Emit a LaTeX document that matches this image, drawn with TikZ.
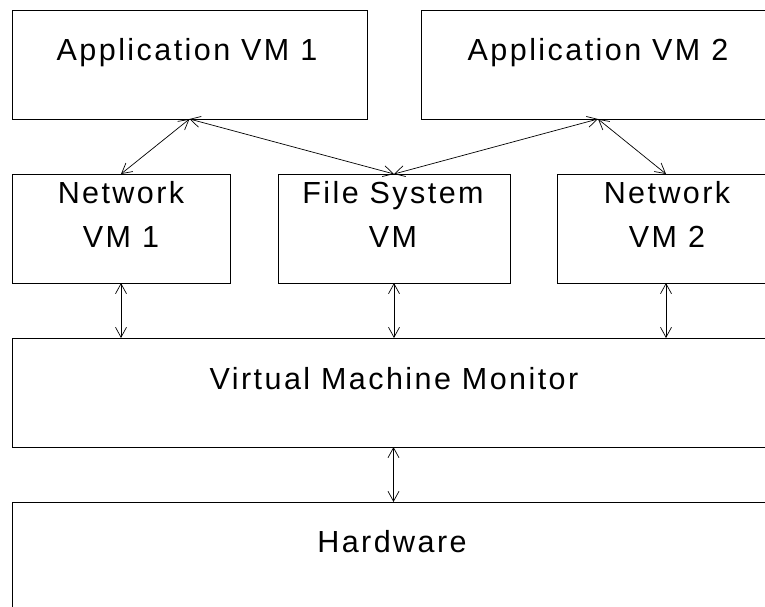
\documentclass[tikz,border=0pt]{standalone}
\usepackage{fontspec}
\setmainfont[LetterSpace=8]{Liberation Sans}
\usetikzlibrary{arrows.meta}
\tikzset{
  box/.style={draw, line width=0.8pt, rectangle, anchor=north west, inner sep=0pt, outer sep=0pt},
  lbl/.style={anchor=base, inner sep=0pt, align=center, font=\fontsize{30.5}{44}\selectfont},
  conn/.style={line width=0.7pt, {Straight Barb[length=10pt,width=11pt]}-{Straight Barb[length=10pt,width=11pt]}}
}
\begin{document}
\begin{tikzpicture}[x=1pt,y=-1pt]
\useasboundingbox (0,0) rectangle (765,607);
\clip (0,0) rectangle (765,607);
\node[box, minimum width=355pt, minimum height=109pt] (app1) at (12,10) {};
\node[box, minimum width=354pt, minimum height=109pt] (app2) at (421,10) {};
\node[box, minimum width=218pt, minimum height=109pt] (net1) at (12,174) {};
\node[box, minimum width=232pt, minimum height=109pt] (fs) at (278,174) {};
\node[box, minimum width=218pt, minimum height=109pt] (net2) at (557,174) {};
\node[box, minimum width=763pt, minimum height=109pt] (vmm) at (12,338) {};
\node[box, minimum width=763pt, minimum height=140pt] (hw) at (12,502) {};

\node[lbl] (app1t) at (187,61) {Application VM 1};
\node[lbl] (app2t) at (598,61) {Application VM 2};
\node[lbl] (net1t) at (121,247) {Network\\VM 1};
\node[lbl] (fst) at (393,247) {File System\\VM};
\node[lbl] (net2t) at (667,247) {Network\\VM 2};
\node[lbl] (vmmt) at (394,389) {Virtual Machine Monitor};
\node[lbl] (hwt) at (392,552) {Hardware};

\draw[conn] (app1.south) -- (net1.north);
\draw[conn] (app1.south) -- (fs.north);
\draw[conn] (app2.south) -- (fs.north);
\draw[conn] (app2.south) -- (net2.north);
\draw[conn] (net1.south) -- (net1.south |- vmm.north);
\draw[conn] (fs.south) -- (fs.south |- vmm.north);
\draw[conn] (net2.south) -- (net2.south |- vmm.north);
\draw[conn] (vmm.south) -- (hw.north);
\end{tikzpicture}
\end{document}
